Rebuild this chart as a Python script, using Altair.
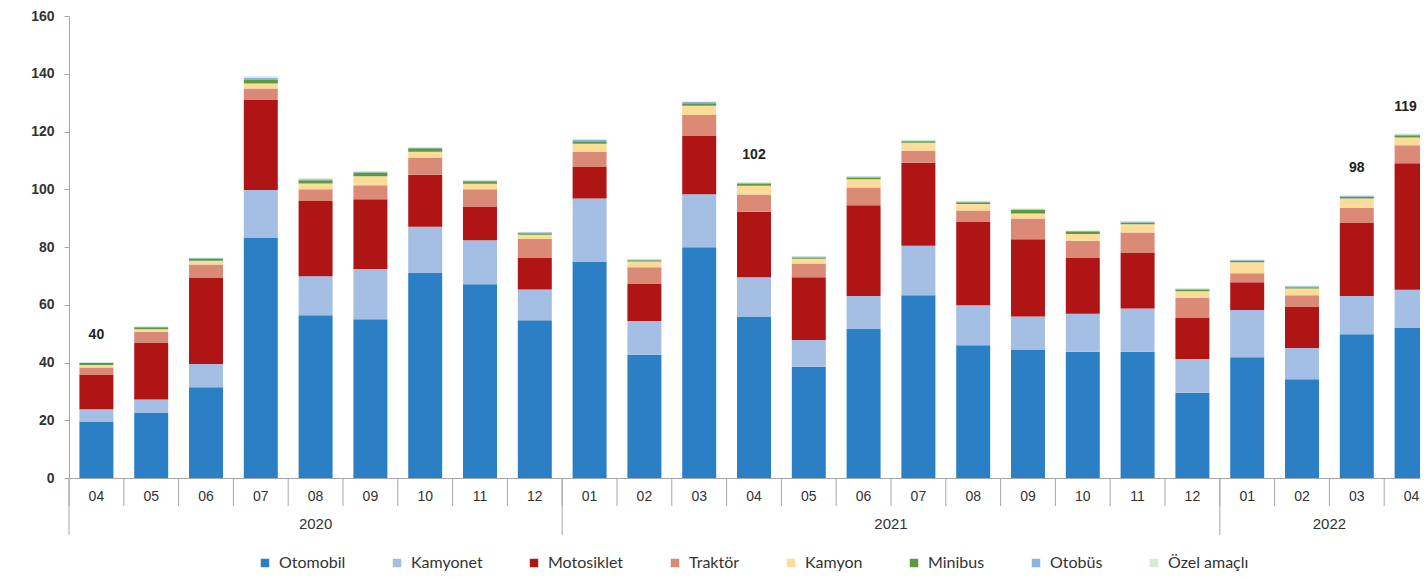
import altair as alt
import pandas as pd

categories = [
    "2020-04", "2020-05", "2020-06", "2020-07", "2020-08", "2020-09", "2020-10", "2020-11", "2020-12",
    "2021-01", "2021-02", "2021-03", "2021-04", "2021-05", "2021-06", "2021-07", "2021-08", "2021-09",
    "2021-10", "2021-11", "2021-12",
    "2022-01", "2022-02", "2022-03", "2022-04",
]

series = ["Otomobil", "Kamyonet", "Motosiklet", "Traktör", "Kamyon", "Minibus", "Otobüs", "Özel amaçlı"]
colors = ["#2a7fc5", "#a4bfe3", "#b01516", "#da8a76", "#fcdc98", "#5b9a3e", "#8db3e2", "#d6ebd2"]

otomobil = [19.6, 22.5, 31.4, 83.3, 56.4, 55.0, 71.0, 67.1, 54.6,
            74.8, 42.7, 79.9, 55.9, 38.5, 51.6, 63.3, 46.0, 44.5, 43.7, 43.7, 29.5,
            41.8, 34.2, 49.8, 52.1]
kamyonet = [4.2, 4.7, 8.1, 16.4, 13.5, 17.4, 16.0, 15.2, 10.7,
            22.0, 11.7, 18.4, 13.6, 9.3, 11.4, 17.1, 13.8, 11.4, 13.2, 15.0, 11.7,
            16.4, 10.8, 13.2, 13.1]
motosiklet = [11.9, 19.7, 29.8, 31.2, 26.0, 24.1, 18.0, 11.7, 10.9,
              10.9, 12.8, 20.3, 22.7, 21.7, 31.5, 28.8, 29.0, 26.8, 19.3, 19.4, 14.2,
              9.6, 14.2, 25.3, 43.8]
traktor = [2.6, 3.7, 4.6, 4.0, 4.1, 4.9, 6.0, 6.0, 6.6,
           5.2, 5.8, 7.1, 6.0, 4.8, 6.1, 4.1, 3.8, 7.2, 6.0, 6.9, 7.0,
           3.1, 4.1, 5.3, 6.2]
kamyon = [0.8, 0.9, 1.3, 1.7, 2.0, 3.1, 2.0, 1.9, 1.4,
          2.9, 2.0, 3.2, 3.0, 1.6, 2.9, 2.8, 2.3, 1.7, 2.3, 2.9, 2.3,
          3.8, 2.3, 3.2, 2.7]
minibus = [0.7, 0.7, 0.8, 1.2, 1.1, 1.3, 1.2, 0.9, 0.6,
           0.8, 0.4, 0.9, 0.8, 0.5, 0.6, 0.5, 0.6, 1.2, 0.7, 0.6, 0.6,
           0.5, 0.5, 0.6, 0.8]
otobus = [0.2, 0.2, 0.2, 0.8, 0.4, 0.3, 0.2, 0.2, 0.3,
          0.5, 0.3, 0.4, 0.2, 0.3, 0.3, 0.3, 0.3, 0.3, 0.3, 0.3, 0.2,
          0.3, 0.3, 0.3, 0.3]
ozel = [0.2, 0.1, 0.1, 0.5, 0.3, 0.2, 0.2, 0.2, 0.2,
        0.3, 0.2, 0.2, 0.2, 0.2, 0.2, 0.2, 0.2, 0.2, 0.2, 0.2, 0.2,
        0.2, 0.2, 0.2, 0.3]

label_cats = ["2020-04", "2021-04", "2022-03", "2022-04"]
label_texts = ["40", "102", "98", "119"]

year_names = ["2020", "2021", "2022"]
year_starts = ["2020-04", "2021-01", "2022-01"]

all_series = [otomobil, kamyonet, motosiklet, traktor, kamyon, minibus, otobus, ozel]

rows = []
for si, (name, vals) in enumerate(zip(series, all_series)):
    for c, v in zip(categories, vals):
        rows.append({"cat": c, "series": name, "idx": si, "value": v})
df = pd.DataFrame(rows)

totals = {c: sum(s[i] for s in all_series) for i, c in enumerate(categories)}
labels_df = pd.DataFrame({"cat": label_cats, "txt": label_texts,
                          "value": [totals[c] for c in label_cats]})
labels_inner = labels_df.iloc[:-1]
labels_edge = labels_df.iloc[-1:]
cats_df = pd.DataFrame({"cat": categories})
ystart_df = pd.DataFrame({"cat": year_starts})
year_center_df = pd.DataFrame({"cat": ["2020-08"], "txt": [year_names[0]]})
year_edge_df = pd.DataFrame({"cat": ["2021-07", "2022-03"], "txt": year_names[1:]})

PLOT_H = 462
GRAY = "#a6a6a6"
FONT = "Liberation Sans"

xscale = alt.Scale(type="band", domain=categories, paddingInner=0, paddingOuter=0)
xaxis = alt.Axis(title=None, ticks=False, labelAngle=0, labelExpr="substring(datum.label, 5)",
                 labelPadding=11, labelFontSize=14, labelFont=FONT, labelColor="#333333",
                 domainColor=GRAY, grid=False)
yscale = alt.Scale(domain=[0, 160], nice=False)
yaxis = alt.Axis(title=None, values=list(range(0, 161, 20)), tickSize=5, tickColor=GRAY,
                 domainColor=GRAY, labelFontSize=14, labelFont=FONT, labelFontWeight="bold",
                 labelColor="#333333", labelPadding=10, grid=False)


def X(bp=None):
    if bp is None:
        return alt.X("cat:N", scale=xscale, axis=xaxis)
    return alt.X("cat:N", scale=xscale, axis=xaxis, bandPosition=bp)


bars = alt.Chart(df).mark_bar(width=alt.RelativeBandSize(0.62)).encode(
    x=X(),
    y=alt.Y("value:Q", stack="zero", scale=yscale, axis=yaxis),
    color=alt.Color("series:N", scale=alt.Scale(domain=series, range=colors),
                    legend=alt.Legend(orient="none", legendX=188, legendY=539, direction="horizontal",
                                      columns=8, title=None, symbolType="square", symbolSize=72,
                                      symbolStrokeWidth=0, labelFont="Lato", labelFontSize=16,
                                      labelColor="#333333", columnPadding=43, labelOffset=6,
                                      padding=0)),
    order=alt.Order("idx:Q"),
)

month_rules = alt.Chart(cats_df).mark_rule(color=GRAY, strokeWidth=1).encode(
    x=X(0), y=alt.value(PLOT_H), y2=alt.value(PLOT_H + 28)
)
year_rules = alt.Chart(ystart_df).mark_rule(color=GRAY, strokeWidth=1).encode(
    x=X(0), y=alt.value(PLOT_H), y2=alt.value(PLOT_H + 57)
)
year_text1 = alt.Chart(year_center_df).mark_text(fontSize=15, font=FONT, color="#333333",
                                                 baseline="middle").encode(
    x=X(0.5), y=alt.value(PLOT_H + 46), text="txt:N"
)
year_text2 = alt.Chart(year_edge_df).mark_text(fontSize=15, font=FONT, color="#333333",
                                               baseline="middle").encode(
    x=X(0), y=alt.value(PLOT_H + 46), text="txt:N"
)
data_labels = alt.Chart(labels_inner).mark_text(fontSize=14, font=FONT, fontWeight="bold",
                                                color="#222222", baseline="middle", dy=-27).encode(
    x=X(), y=alt.Y("value:Q", scale=yscale, axis=yaxis), text="txt:N"
)
data_label_edge = alt.Chart(labels_edge).mark_text(fontSize=14, font=FONT, fontWeight="bold",
                                                   color="#222222", baseline="middle", dy=-27,
                                                   dx=-6).encode(
    x=X(), y=alt.Y("value:Q", scale=yscale, axis=yaxis), text="txt:N"
)

chart = alt.layer(bars, month_rules, year_rules, year_text1, year_text2,
                  data_labels, data_label_edge).properties(
    width=1370, height=PLOT_H,
    autosize=alt.AutoSizeParams(type="none"),
    padding={"left": 61, "top": 8, "right": -19, "bottom": 96},
    background="white",
).configure_view(stroke=None)

chart.save("out.html", embed_options={"renderer": "svg", "actions": False})
